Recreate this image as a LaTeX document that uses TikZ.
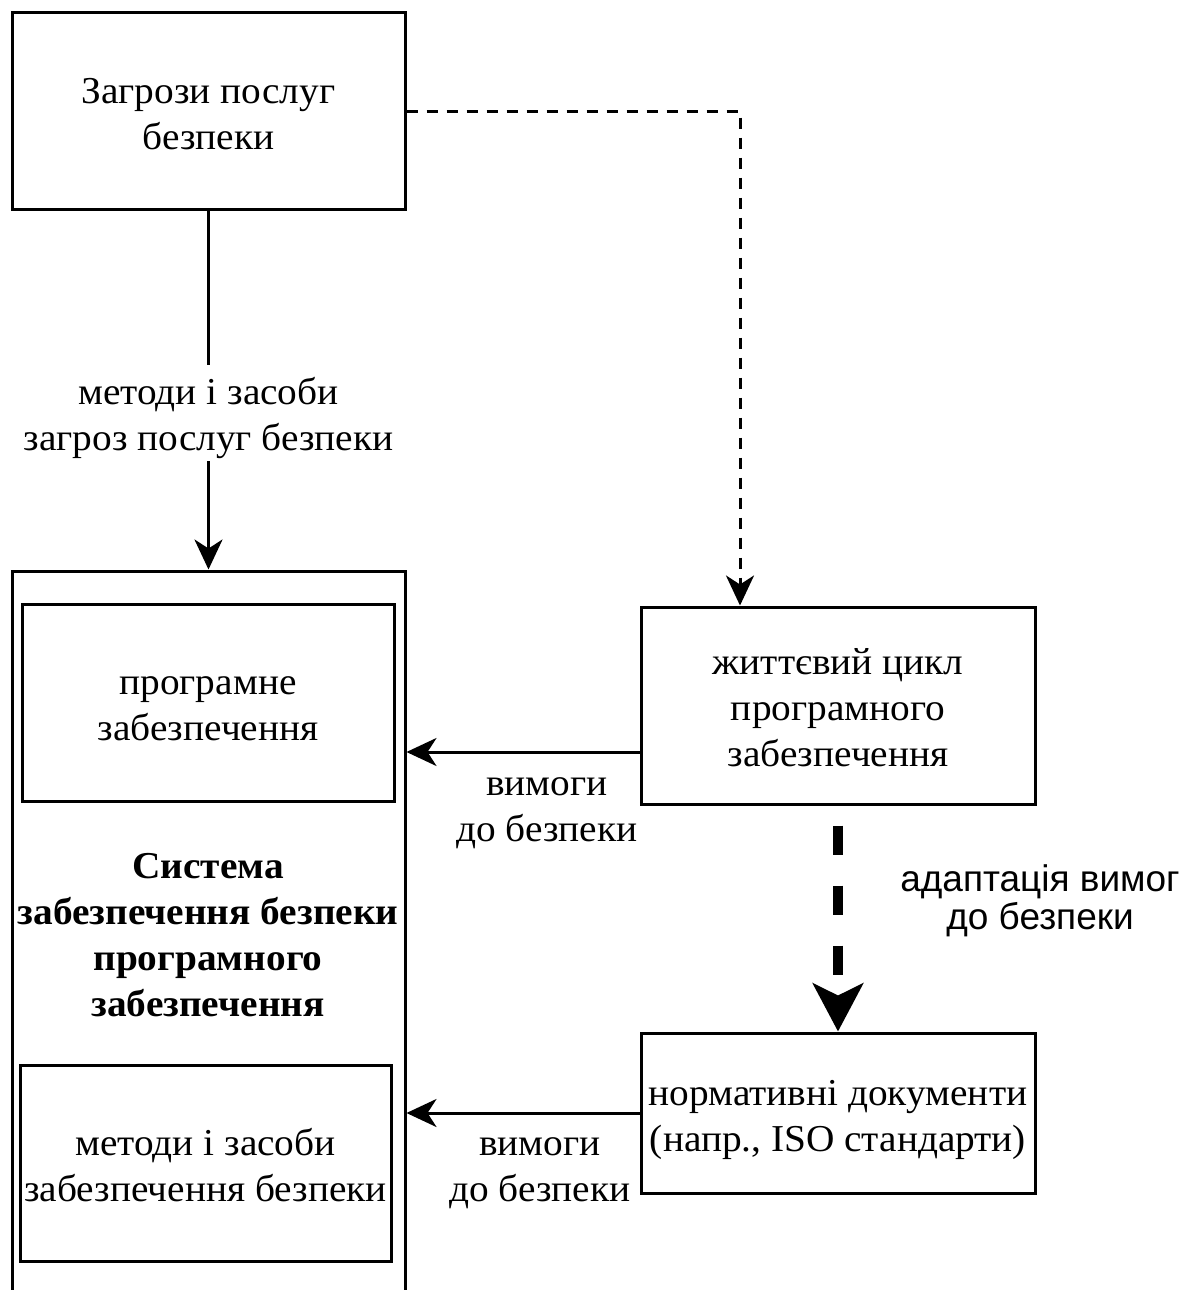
\documentclass[tikz,border=0pt]{standalone}
\usepackage{fontspec}
\setmainfont{Liberation Serif}[FakeStretch=1.035]
\newfontfamily\labelsans{Liberation Sans}
\usetikzlibrary{arrows.meta}
% struts giving every text block the same height above its first baseline
% and the same depth below its last one
\newcommand\firstlinestrut{\rule{0pt}{40pt}}
\newcommand\lastlinestrut{\rule[-10pt]{0pt}{10pt}}
\begin{document}
\begin{tikzpicture}[x=1pt,y=-1pt,
  txt/.style={font=\fontsize{38}{46}\selectfont, align=center, inner sep=0pt},
  box/.style={txt, draw, line width=3pt},
  flow/.style={line width=3pt, -{Stealth[length=30pt,width=28pt,inset=9pt]}},
  dashflow/.style={flow, dash pattern=on 11pt off 9pt},
  bigflow/.style={line width=10pt, dash pattern=on 29pt off 31pt,
    -{Stealth[length=48pt,width=50pt,inset=12pt]}}]
\useasboundingbox (0,0) rectangle (1186,1290);
\clip (0,0) rectangle (1186,1290);

% threats
\node[box, minimum width=393pt, minimum height=196pt] (threat) at (208.5,111)
  {\firstlinestrut Загрози послуг\\безпеки\lastlinestrut};

% security system container (runs past the lower edge)
\node[draw, line width=3pt, inner sep=0pt, minimum width=393pt, minimum height=749pt]
  (sys) at (208.5,945.5) {};
\node[box, minimum width=372pt, minimum height=197pt] (soft) at (208,702.5)
  {\firstlinestrut програмне\\забезпечення\lastlinestrut};
\node[txt, font=\fontsize{38}{46}\selectfont\bfseries] (systitle) at (208,932)
  {\firstlinestrut Система\\забезпечення безпеки\\програмного\\забезпечення\lastlinestrut};
\node[box, minimum width=371pt, minimum height=196pt] (means) at (205.5,1163)
  {\firstlinestrut методи і засоби\\забезпечення безпеки\lastlinestrut};

% right column
\node[box, minimum width=394pt, minimum height=197pt] (life) at (838,705.5)
  {\firstlinestrut життєвий цикл\\програмного\\забезпечення\lastlinestrut};
\node[box, minimum width=394pt, minimum height=160pt] (norm) at (838,1113)
  {\firstlinestrut нормативні документи\\(напр., ISO стандарти)\lastlinestrut};

% connectors
\draw[flow] (threat.south) -- node[txt, fill=white, pos=0.5635]
  {\firstlinestrut методи і засоби\\загроз послуг безпеки\lastlinestrut} (sys.north);

\coordinate (lifein) at ([xshift=-98pt]life.north);
\draw[dashflow] (threat.east) -| (lifein);

\coordinate (lifeout) at ([yshift=-46.5pt]life.west);
\draw[flow] (lifeout) -- (lifeout -| sys.east);
\node[txt] (req1) at (547,803) {\firstlinestrut вимоги\\до безпеки\lastlinestrut};

\draw[flow] (norm.west) -- (norm.west -| sys.east);
\node[txt] (req2) at (540,1163) {\firstlinestrut вимоги\\до безпеки\lastlinestrut};

\coordinate (adstart) at ([yshift=-20pt]life.south);
\draw[bigflow] (adstart) -- (norm.north);
\node[align=center, font=\labelsans\fontsize{37}{38}\selectfont] (adapt) at (1040,901)
  {адаптація вимог\\до безпеки};
\end{tikzpicture}
\end{document}
